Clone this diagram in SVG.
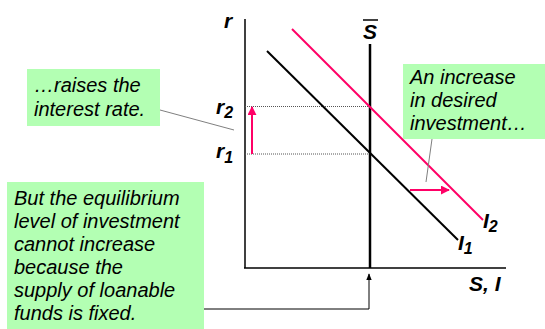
<svg xmlns="http://www.w3.org/2000/svg" width="545" height="329" viewBox="0 0 545 329">
<style>
.box{fill:#B3FFB3}
.txt{font-family:"Liberation Sans",Arial,sans-serif;font-style:italic;font-size:20px;fill:#000}
.lab{font-family:"Liberation Sans",Arial,sans-serif;font-style:italic;font-weight:bold;font-size:21px;fill:#000}
.sub{font-size:16px}
.lead{stroke:#808080;stroke-width:1;fill:none}
.dot{stroke:#555;stroke-width:1;stroke-dasharray:1,1;fill:none}
.pink{stroke:#FF0066;fill:none}
</style>
<defs>
<marker id="ph" viewBox="0 0 10 10" refX="9" refY="5" markerWidth="4.5" markerHeight="4.5" orient="auto" markerUnits="strokeWidth">
<path d="M0,0 L10,5 L0,10 Z" fill="#FF0066"/>
</marker>
<marker id="bh" viewBox="0 0 10 10" refX="9" refY="5" markerWidth="7" markerHeight="7" orient="auto" markerUnits="strokeWidth">
<path d="M0,1 L10,5 L0,9 Z" fill="#000"/>
</marker>
</defs>
<g id="axes">
<line x1="245" y1="19" x2="245" y2="268" stroke="#000" stroke-width="1.5"/>
<line x1="244" y1="268" x2="506" y2="268" stroke="#000" stroke-width="1.5"/>
<text class="lab" x="224" y="28">r</text>
<text class="lab" x="469" y="291">S, I</text>
</g>
<g id="levels">
<line class="dot" x1="245" y1="106.5" x2="370" y2="106.5"/>
<line class="dot" x1="245" y1="154" x2="370" y2="154"/>
<text class="lab" x="216" y="114">r<tspan class="sub" dy="4">2</tspan></text>
<text class="lab" x="216" y="158">r<tspan class="sub" dy="5">1</tspan></text>
</g>
<g id="supply">
<line x1="370" y1="44" x2="370" y2="268" stroke="#000" stroke-width="2.5"/>
<line x1="363" y1="20" x2="378" y2="20" stroke="#000" stroke-width="1.5"/>
<text class="lab" x="370" y="39" text-anchor="middle">S</text>
</g>
<g id="I1">
<line x1="267" y1="51" x2="458" y2="240" stroke="#000" stroke-width="2"/>
<text class="lab" x="458" y="250">I<tspan class="sub" dy="4">1</tspan></text>
</g>
<g id="I2">
<line x1="292" y1="29" x2="483" y2="220" stroke="#FF0066" stroke-width="2"/>
<text class="lab" x="483" y="228">I<tspan class="sub" dy="4">2</tspan></text>
</g>
<g id="connectors">
<line class="pink" x1="252" y1="154" x2="252" y2="107" stroke-width="2" marker-end="url(#ph)"/>
<line class="pink" x1="410" y1="190" x2="449" y2="190" stroke-width="2" marker-end="url(#ph)"/>
<line class="lead" x1="160" y1="110" x2="234" y2="130"/>
<line class="lead" x1="432" y1="139" x2="426" y2="182"/>
<polyline points="204,309 369,309 369,274" fill="none" stroke="#000" stroke-width="1" marker-end="url(#bh)"/>
</g>
<g id="callout1">
<rect class="box" x="27" y="69" width="133" height="57"/>
<text class="txt" x="34" y="92">…raises the</text>
<text class="txt" x="34" y="116">interest rate.</text>
</g>
<g id="callout2">
<rect class="box" x="403" y="64" width="142" height="75"/>
<text class="txt" x="410" y="84">An increase</text>
<text class="txt" x="410" y="107">in desired</text>
<text class="txt" x="410" y="130">investment…</text>
</g>
<g id="callout3">
<rect class="box" x="7" y="182" width="197" height="147"/>
<text class="txt" x="14" y="205">But the equilibrium</text>
<text class="txt" x="14" y="228">level of investment</text>
<text class="txt" x="14" y="251">cannot increase</text>
<text class="txt" x="14" y="274">because the</text>
<text class="txt" x="14" y="297">supply of loanable</text>
<text class="txt" x="14" y="320">funds is fixed.</text>
</g>
</svg>
